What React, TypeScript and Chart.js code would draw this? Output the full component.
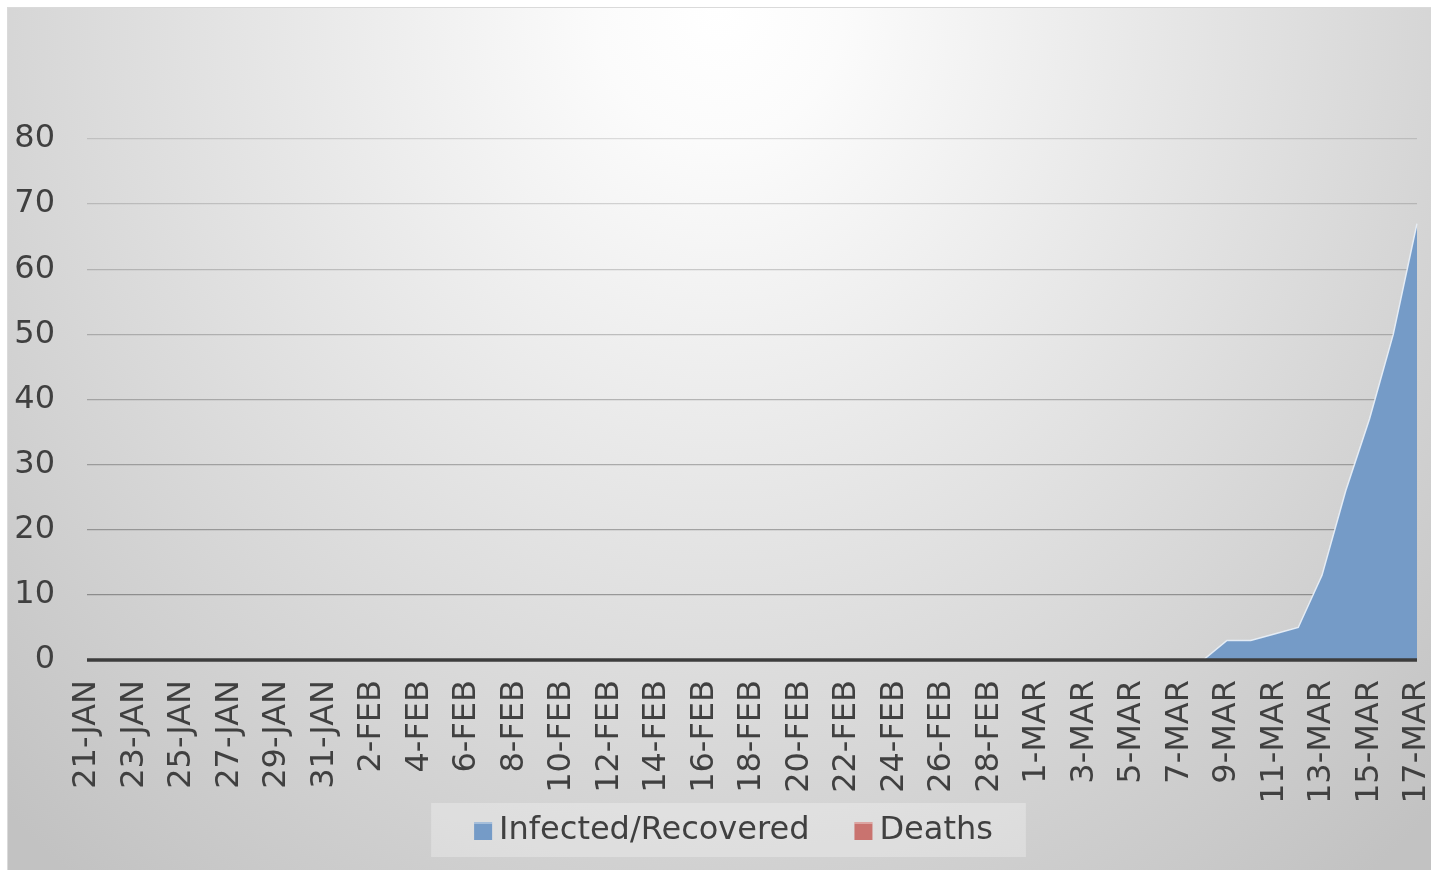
import React, { useEffect, useRef } from "react";
import { Chart, registerables } from "chart.js";

Chart.register(...registerables);

const categories: string[] = [
  "21-JAN", "22-JAN", "23-JAN", "24-JAN", "25-JAN", "26-JAN", "27-JAN", "28-JAN", "29-JAN", "30-JAN", "31-JAN",
  "1-FEB", "2-FEB", "3-FEB", "4-FEB", "5-FEB", "6-FEB", "7-FEB", "8-FEB", "9-FEB", "10-FEB",
  "11-FEB", "12-FEB", "13-FEB", "14-FEB", "15-FEB", "16-FEB", "17-FEB", "18-FEB", "19-FEB", "20-FEB",
  "21-FEB", "22-FEB", "23-FEB", "24-FEB", "25-FEB", "26-FEB", "27-FEB", "28-FEB", "29-FEB",
  "1-MAR", "2-MAR", "3-MAR", "4-MAR", "5-MAR", "6-MAR", "7-MAR", "8-MAR", "9-MAR", "10-MAR",
  "11-MAR", "12-MAR", "13-MAR", "14-MAR", "15-MAR", "16-MAR", "17-MAR",
];

const infectedRecovered: number[] = [
  0, 0, 0, 0, 0, 0, 0, 0, 0, 0, 0,
  0, 0, 0, 0, 0, 0, 0, 0, 0, 0,
  0, 0, 0, 0, 0, 0, 0, 0, 0, 0,
  0, 0, 0, 0, 0, 0, 0, 0, 0,
  0, 0, 0, 0, 0, 0, 0, 0, 3, 3,
  4, 5, 13, 26, 37, 50, 67,
];

const deaths: number[] = [
  0, 0, 0, 0, 0, 0, 0, 0, 0, 0, 0,
  0, 0, 0, 0, 0, 0, 0, 0, 0, 0,
  0, 0, 0, 0, 0, 0, 0, 0, 0, 0,
  0, 0, 0, 0, 0, 0, 0, 0, 0,
  0, 0, 0, 0, 0, 0, 0, 0, 0, 0,
  0, 0, 0, 0, 0, 0, 0,
];

const seriesNames: string[] = ["Infected/Recovered", "Deaths"];
const yMin = 0;
const yMax = 80;
const yStep = 10;

const FONT = '"DejaVu Sans", sans-serif';
const TEXT = "#404040";

const zeroLine = {
  id: "zeroLine",
  afterDatasetsDraw(chart: any) {
    const ctx = chart.ctx as CanvasRenderingContext2D;
    const area = chart.chartArea;
    const y = chart.scales.y.getPixelForValue(0);
    ctx.save();
    ctx.strokeStyle = "#3d3d3d";
    ctx.lineWidth = 3.5;
    ctx.beginPath();
    ctx.moveTo(area.left, y);
    ctx.lineTo(area.right, y);
    ctx.stroke();
    ctx.restore();
  },
};

const boxedLegend = {
  id: "boxedLegend",
  afterDraw(chart: any) {
    const ctx = chart.ctx as CanvasRenderingContext2D;
    ctx.save();
    ctx.font = `32px ${FONT}`;
    const items = chart.data.datasets.map((ds: any) => ({
      label: ds.label as string,
      color: ds.backgroundColor as string,
      w: ctx.measureText(ds.label).width,
    }));
    const box = 18;
    const gap = 7;
    const itemGap = 45;
    const contentW = items.reduce(
      (s: number, it: any, i: number) => s + box + gap + it.w + (i ? itemGap : 0),
      0
    );
    const cx = chart.width / 2 + 14;
    let x = cx - contentW / 2;
    ctx.fillStyle = "rgba(255,255,255,0.28)";
    ctx.fillRect(x - 43, 795, contentW + 76, 54);
    items.forEach((it: any) => {
      ctx.fillStyle = it.color;
      ctx.fillRect(x, 814, box, box);
      ctx.fillStyle = "rgba(255,255,255,0.35)";
      ctx.fillRect(x, 814, box, 2);
      x += box + gap;
      ctx.fillStyle = TEXT;
      ctx.textBaseline = "alphabetic";
      ctx.textAlign = "left";
      ctx.fillText(it.label, x, 831);
      x += it.w + itemGap;
    });
    ctx.restore();
  },
};

export default function App() {
  const ref = useRef<HTMLCanvasElement | null>(null);

  useEffect(() => {
    if (!ref.current) return;
    const chart = new Chart(ref.current, {
      type: "line",
      data: {
        labels: categories,
        datasets: [
          {
            label: seriesNames[0],
            data: infectedRecovered,
            backgroundColor: "#759bc7",
            borderColor: "rgba(235,242,250,0.9)",
            borderWidth: 1.5,
            fill: "origin",
            pointRadius: 0,
            tension: 0,
          },
          {
            label: seriesNames[1],
            data: deaths,
            backgroundColor: "#c9736f",
            borderColor: "rgba(0,0,0,0)",
            borderWidth: 0,
            fill: "origin",
            pointRadius: 0,
            tension: 0,
          },
        ],
      },
      options: {
        animation: false,
        responsive: false,
        devicePixelRatio: 1,
        layout: { padding: { left: 0, top: 131, right: 14, bottom: 70 } },
        plugins: {
          legend: { display: false },
          tooltip: { enabled: false },
        },
        scales: {
          x: {
            type: "category",
            offset: false,
            grid: { display: false, drawTicks: false },
            border: { display: false },
            ticks: {
              autoSkip: false,
              minRotation: 90,
              maxRotation: 90,
              padding: 20,
              color: TEXT,
              font: { family: FONT, size: 32 },
              callback: (_v: any, i: number) => (i % 2 === 0 ? categories[i] : ""),
            },
            afterFit: (scale: any) => {
              scale.height = 140;
              scale.paddingLeft = 0;
              scale.paddingRight = 0;
            },
          },
          y: {
            min: yMin,
            max: yMax,
            grid: {
              drawTicks: false,
              lineWidth: 1.3,
              color: (c: any) => {
                const v = c.tick ? c.tick.value : 0;
                if (v === 0) return "rgba(0,0,0,0)";
                const a = 0.12 + ((yMax - v) / (yMax - yStep)) * 0.2;
                return `rgba(0,0,0,${a.toFixed(3)})`;
              },
            },
            border: { display: false },
            ticks: {
              stepSize: yStep,
              padding: 32,
              color: TEXT,
              font: { family: FONT, size: 32 },
            },
            afterFit: (scale: any) => {
              scale.width = 79;
              scale.paddingTop = 0;
              scale.paddingBottom = 0;
            },
          },
        },
      },
      plugins: [zeroLine, boxedLegend],
    });
    return () => chart.destroy();
  }, []);

  return (
    <div
      style={{
        position: "fixed",
        left: 8,
        top: 8,
        width: 1423,
        height: 862,
        outline: "1px solid #dadada",
        background:
          "radial-gradient(ellipse 72% 130% at 50% 0%, #ffffff 0%, #fbfbfb 12%, #c2c2c2 100%)",
      }}
    >
      <canvas ref={ref} width={1423} height={862} style={{ display: "block" }} />
    </div>
  );
}
